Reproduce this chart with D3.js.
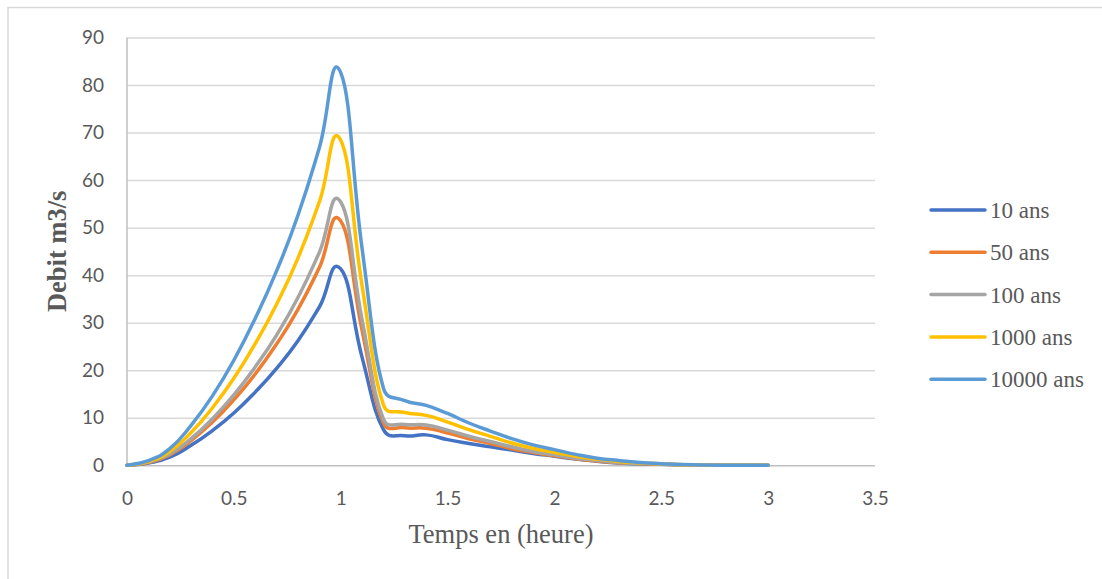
<!DOCTYPE html>
<html>
<head>
<meta charset="utf-8">
<script src="https://cdn.jsdelivr.net/npm/d3@7"></script>
<style>
  body { margin: 0; background: #fff; }
</style>
</head>
<body>
<div id="chart"></div>
<script>
// time steps (hours)
const temps = [0, 0.1, 0.2, 0.3, 0.4, 0.5, 0.6, 0.7, 0.8, 0.9, 1.0,
	1.1, 1.2, 1.3, 1.4, 1.5, 1.6, 1.7, 1.8, 1.9, 2.0,
	2.1, 2.2, 2.3, 2.4, 2.5, 2.6, 2.7, 2.8, 2.9, 3.0];

// discharge (m3/s) for each return period
const q10 = [0, 0.5, 1.7, 4.2, 7.3, 11.0, 15.4, 20.4, 26.2, 33.3, 41.3,
	22.7, 7.5, 6.2, 6.4, 5.4, 4.6, 3.9, 3.2, 2.5, 1.9,
	1.3, 0.85, 0.5, 0.3, 0.2, 0.08, 0.02, 0, 0, 0];
const q50 = [0, 0.6, 2.2, 5.2, 9.1, 13.8, 19.2, 25.5, 32.8, 41.6, 51.4,
	28.4, 8.9, 7.9, 7.8, 6.8, 5.6, 4.6, 3.5, 2.7, 2.0,
	1.4, 0.9, 0.55, 0.35, 0.2, 0.1, 0.03, 0, 0, 0];
const q100 = [0, 0.7, 2.4, 5.6, 9.8, 14.8, 20.7, 27.4, 35.3, 44.8, 55.4,
	30.6, 9.7, 8.6, 8.5, 7.4, 6.1, 5.0, 3.9, 2.9, 2.2,
	1.5, 1.05, 0.6, 0.4, 0.25, 0.1, 0.03, 0, 0, 0];
const q1000 = [0, 0.8, 2.9, 6.9, 12.1, 18.3, 25.6, 33.9, 43.6, 55.4, 68.4,
	37.8, 12.7, 11.1, 10.5, 9.1, 7.5, 6.1, 4.7, 3.6, 2.7,
	1.9, 1.3, 0.8, 0.5, 0.3, 0.12, 0.03, 0, 0, 0];
const q10000 = [0, 1.0, 3.5, 8.4, 14.6, 22.1, 30.9, 40.9, 52.6, 66.8, 82.6,
	45.6, 16.2, 13.6, 12.6, 10.9, 8.9, 7.2, 5.6, 4.3, 3.3,
	2.3, 1.5, 1.0, 0.6, 0.35, 0.15, 0.04, 0, 0, 0];

const seriesNames = ["10 ans", "50 ans", "100 ans", "1000 ans", "10000 ans"];
const seriesValues = [q10, q50, q100, q1000, q10000];
const seriesColors = ["#4472C4", "#ED7D31", "#A5A5A5", "#FFC000", "#5B9BD5"];

const xTicks = [0, 0.5, 1, 1.5, 2, 2.5, 3, 3.5];
const yTicks = [0, 10, 20, 30, 40, 50, 60, 70, 80, 90];

const width = 1102;
const height = 579;
const plot = { left: 127, right: 875, top: 37.5, bottom: 465.3 };

// Spreadsheet-style smoothing: bezier handles from the neighbours,
// shortened when a handle is long compared to its segment.
function smoothCurve(context) {
	let pts = [];
	return {
		areaStart() {},
		areaEnd() {},
		lineStart() {
			pts = [];
		},
		point(px, py) {
			pts.push([+px, +py]);
		},
		lineEnd() {
			const n = pts.length;
			if (!n) return;
			context.moveTo(pts[0][0], pts[0][1]);
			for (let i = 0; i < n - 1; i++) {
				const p0 = pts[Math.max(i - 1, 0)];
				const p1 = pts[i];
				const p2 = pts[i + 1];
				const p3 = pts[Math.min(i + 2, n - 1)];
				const seg = Math.hypot(p2[0] - p1[0], p2[1] - p1[1]);
				const cap = seg * 0.5;
				let a = [(p2[0] - p0[0]) / 4, (p2[1] - p0[1]) / 4];
				let b = [(p3[0] - p1[0]) / 4, (p3[1] - p1[1]) / 4];
				const la = Math.hypot(a[0], a[1]);
				const lb = Math.hypot(b[0], b[1]);
				if (la > cap) a = a.map((v) => (v * cap) / la);
				if (lb > cap) b = b.map((v) => (v * cap) / lb);
				context.bezierCurveTo(
					p1[0] + a[0], p1[1] + a[1],
					p2[0] - b[0], p2[1] - b[1],
					p2[0], p2[1],
				);
			}
		},
	};
}

const svg = d3
	.select("#chart")
	.append("svg")
	.attr("width", width)
	.attr("height", height)
	.style("display", "block");

svg.append("rect").attr("width", width).attr("height", height).attr("fill", "#fff");

// outer chart border (only top and left visible in the crop)
svg
	.append("rect")
	.attr("x", 8)
	.attr("y", 7.5)
	.attr("width", 1200)
	.attr("height", 700)
	.attr("fill", "none")
	.attr("stroke", "#D9D9D9")
	.attr("stroke-width", 1.5);

const x = d3.scaleLinear().domain([0, 3.5]).range([plot.left, plot.right]);
const y = d3.scaleLinear().domain([0, 90]).range([plot.bottom, plot.top]);

// horizontal gridlines + y labels
const yAxis = svg
	.append("g")
	.attr("transform", `translate(${plot.left},0)`)
	.call(
		d3
			.axisLeft(y)
			.tickValues(yTicks)
			.tickSize(-(plot.right - plot.left))
			.tickPadding(23)
			.tickFormat(d3.format("d")),
	);
yAxis.select(".domain").remove();
yAxis
	.selectAll(".tick line")
	.attr("stroke", (d) => (d === 0 ? "#BFBFBF" : "#D9D9D9"))
	.attr("stroke-width", 1.5);
yAxis
	.selectAll(".tick text")
	.attr("fill", "#595959")
	.style("font-family", "Lato, 'Liberation Sans', sans-serif")
	.style("font-size", "19px");

// x axis labels
const xAxis = svg
	.append("g")
	.attr("transform", `translate(0,${plot.bottom})`)
	.call(
		d3
			.axisBottom(x)
			.tickValues(xTicks)
			.tickSize(0)
			.tickPadding(26)
			.tickFormat((d) => String(d)),
	);
xAxis.select(".domain").remove();
xAxis
	.selectAll(".tick text")
	.attr("fill", "#595959")
	.style("font-family", "Lato, 'Liberation Sans', sans-serif")
	.style("font-size", "19px");

// vertical axis line
svg
	.append("line")
	.attr("x1", plot.left)
	.attr("x2", plot.left)
	.attr("y1", plot.top)
	.attr("y2", plot.bottom)
	.attr("stroke", "#BFBFBF")
	.attr("stroke-width", 1.5);

const line = d3
	.line()
	.x((d) => x(d[0]))
	.y((d) => y(d[1]))
	.curve(smoothCurve);

seriesValues.forEach((vals, i) => {
	svg
		.append("path")
		.datum(temps.map((t, j) => [t, vals[j]]))
		.attr("d", line)
		.attr("fill", "none")
		.attr("stroke", seriesColors[i])
		.attr("stroke-width", 3.5)
		.attr("stroke-linejoin", "round")
		.attr("stroke-linecap", "round");
});

// axis titles
svg
	.append("text")
	.attr("x", (plot.left + plot.right) / 2)
	.attr("y", 543)
	.attr("text-anchor", "middle")
	.attr("fill", "#595959")
	.style("font-family", "'Liberation Serif', 'Times New Roman', serif")
	.style("font-size", "26.5px")
	.text("Temps en (heure)");

svg
	.append("text")
	.attr("transform", `translate(66,${(plot.top + plot.bottom) / 2}) rotate(-90)`)
	.attr("text-anchor", "middle")
	.attr("fill", "#595959")
	.style("font-family", "'Liberation Serif', 'Times New Roman', serif")
	.style("font-size", "26.5px")
	.style("font-weight", "bold")
	.text("Debit m3/s");

// legend
const legend = svg
	.append("g")
	.selectAll("g")
	.data(seriesNames)
	.join("g")
	.attr("transform", (d, i) => `translate(931,${210 + i * 42.3})`);

legend
	.append("line")
	.attr("x1", 0)
	.attr("x2", 54)
	.attr("stroke", (d, i) => seriesColors[i])
	.attr("stroke-width", 3.5)
	.attr("stroke-linecap", "round");

legend
	.append("text")
	.attr("x", 59)
	.attr("y", 8)
	.attr("fill", "#595959")
	.style("font-family", "'Liberation Serif', 'Times New Roman', serif")
	.style("font-size", "23px")
	.text((d) => d);
</script>
</body>
</html>
